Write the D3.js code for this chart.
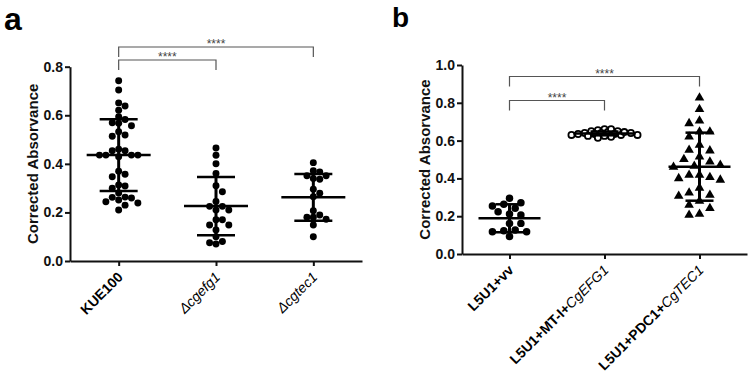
<!DOCTYPE html>
<html>
<head>
<meta charset="utf-8">
<script src="https://cdn.jsdelivr.net/npm/d3@7"></script>
<style>
  body { margin: 0; background: #fff; }
  text { font-family: "Liberation Sans", Arial, sans-serif; }
</style>
</head>
<body>
<script>
// ---- data ----
// panel a
const catA = ["KUE100", "Δcgefg1", "Δcgtec1"];
const kue100 = [0.742, 0.704, 0.651, 0.638, 0.621, 0.594, 0.583, 0.569, 0.567, 0.557, 0.532, 0.519,
                0.514, 0.460, 0.454, 0.454, 0.436, 0.436, 0.436, 0.436, 0.429, 0.370, 0.357, 0.347,
                0.313, 0.309, 0.300, 0.280, 0.263, 0.262, 0.259, 0.251, 0.244, 0.239, 0.230, 0.210];
const dCgefg1 = [0.465, 0.435, 0.400, 0.360, 0.310, 0.285, 0.245, 0.225, 0.210, 0.210, 0.225,
                 0.170, 0.170, 0.148, 0.148, 0.128, 0.100, 0.080, 0.070, 0.075];
const dCgtec1 = [0.405, 0.372, 0.351, 0.340, 0.337, 0.351, 0.367, 0.295, 0.279, 0.265,
                 0.207, 0.180, 0.172, 0.148, 0.180, 0.189, 0.100];
const meanA = [0.436, 0.226, 0.262];
const sdA = [0.148, 0.120, 0.096];
const ticksA = [0.0, 0.2, 0.4, 0.6, 0.8];

// panel b
const catB = ["L5U1+vv", "L5U1+MT-I+CgEFG1", "L5U1+PDC1+CgTEC1"];
const labelB = [["L5U1+vv", ""], ["L5U1+MT-I+", "CgEFG1"], ["L5U1+PDC1+", "CgTEC1"]];
const vv = [0.295, 0.271, 0.254, 0.242, 0.263, 0.212, 0.224, 0.206, 0.162, 0.162,
            0.127, 0.118, 0.092, 0.118, 0.123];
const mtEfg1 = [0.655, 0.660, 0.650, 0.645, 0.660, 0.650, 0.640, 0.640, 0.635, 0.630,
                0.630, 0.635, 0.625, 0.620, 0.630, 0.640, 0.645, 0.635, 0.625, 0.615];
const pdcTec1 = [0.827, 0.766, 0.705, 0.691, 0.647, 0.647, 0.620, 0.577, 0.550, 0.547,
                 0.515, 0.501, 0.488, 0.471, 0.466, 0.460, 0.418, 0.418, 0.406, 0.400,
                 0.392, 0.350, 0.324, 0.312, 0.307, 0.280, 0.259, 0.242, 0.212, 0.206];
const meanB = [0.189, 0.638, 0.462];
const sdB = [0.074, 0.010, 0.180];
const ticksB = [0.0, 0.2, 0.4, 0.6, 0.8, 1.0];

// significance brackets: [from index, to index, label]
const sigA = [[0, 1, "****"], [0, 2, "****"]];
const sigB = [[0, 1, "****"], [0, 2, "****"]];

const svg = d3.select("body").append("svg")
    .attr("width", 750)
    .attr("height", 374);

// simple column beeswarm, top values first
function swarm(values, y, step, minDist, sign) {
    const placed = [];
    const out = new Array(values.length);
    values.map((v, i) => ({v, i}))
        .sort((a, b) => b.v - a.v)
        .forEach(p => {
            const py = y(p.v);
            for (let k = 0; k < 200; k++) {
                const off = k === 0 ? 0 : (k % 2 ? sign : -sign) * Math.ceil(k / 2) * step;
                if (placed.every(q => Math.hypot(q.dx - off, q.y - py) >= minDist)) {
                    placed.push({dx: off, y: py});
                    out[p.i] = off;
                    break;
                }
            }
        });
    return out;
}

function drawPanel(o) {
    const g = svg.append("g");
    const x = d3.scalePoint().domain(o.cats).range(o.xr).padding(0.5);
    const y = d3.scaleLinear().domain(o.yd).range(o.yr);

    // axes
    const yAxis = g.append("g")
        .attr("transform", "translate(" + o.xr[0] + ",0)")
        .call(d3.axisLeft(y).tickValues(o.ticks).tickFormat(d3.format(".1f"))
            .tickSize(5).tickSizeOuter(0).tickPadding(2));
    const xAxis = g.append("g")
        .attr("transform", "translate(0," + o.yr[0] + ")")
        .call(d3.axisBottom(x).tickSize(5).tickSizeOuter(0).tickFormat(""));
    [yAxis, xAxis].forEach(a => {
        a.select(".domain").attr("stroke", "#111").attr("stroke-width", 2);
        a.selectAll(".tick line").attr("stroke", "#111").attr("stroke-width", 2);
    });
    yAxis.selectAll(".tick text")
        .attr("font-size", 14).attr("font-weight", "bold").attr("fill", "#111");

    // x labels, rotated
    o.cats.forEach((c, i) => {
        const t = g.append("text")
            .attr("text-anchor", "end")
            .attr("font-size", 14)
            .attr("fill", "#000")
            .attr("transform", "translate(" + (x(c) + 5) + "," + (o.yr[0] + 17) + ") rotate(-45)");
        o.labels[i].forEach((part, j) => {
            if (!part) return;
            const ts = t.append("tspan").attr("fill", "#000").text(part);
            if (o.styles[i][j] === "b") ts.attr("font-weight", "bold");
            else ts.attr("font-style", "italic");
        });
    });

    // y title
    g.append("text")
        .attr("transform", "translate(" + o.titleX + "," + ((o.yr[0] + o.yr[1]) / 2) + ") rotate(-90)")
        .attr("text-anchor", "middle")
        .attr("font-size", 15)
        .attr("font-weight", "bold")
        .attr("fill", "#111")
        .text("Corrected Absorvance");

    // points
    o.series.forEach((vals, i) => {
        const sh = o.shapes[i];
        const offs = swarm(vals, y, sh.step, sh.minDist, sh.sign || 1);
        const sym = d3.symbol().type(sh.type === "tri" ? d3.symbolTriangle : d3.symbolCircle).size(sh.size);
        g.append("g").selectAll("path")
            .data(vals)
            .join("path")
            .attr("d", sym)
            .attr("transform", (d, k) => "translate(" + (x(o.cats[i]) + offs[k]) + "," + y(d) + ")")
            .attr("fill", sh.open ? "#fff" : "#000")
            .attr("stroke", sh.open ? "#000" : "none")
            .attr("stroke-width", sh.open ? 1.8 : 0);
    });

    // mean and SD
    o.cats.forEach((c, i) => {
        const cx = x(c), m = o.means[i], s = o.sds[i];
        g.append("line").attr("x1", cx).attr("x2", cx)
            .attr("y1", y(m + s)).attr("y2", y(m - s))
            .attr("stroke", "#000").attr("stroke-width", 3);
        [m + s, m - s].forEach(v => {
            g.append("line").attr("x1", cx - o.capW).attr("x2", cx + o.capW)
                .attr("y1", y(v)).attr("y2", y(v))
                .attr("stroke", "#000").attr("stroke-width", 2.5);
        });
        g.append("line").attr("x1", cx - o.meanW).attr("x2", cx + o.meanW)
            .attr("y1", y(m)).attr("y2", y(m))
            .attr("stroke", "#000").attr("stroke-width", 2.5);
    });

    // brackets
    o.sig.forEach((s, k) => {
        const x1 = x(o.cats[s[0]]), x2 = x(o.cats[s[1]]);
        const by = o.brY[k];
        g.append("path")
            .attr("d", "M" + x1 + "," + (by + 10) + "V" + by + "H" + x2 + "V" + (by + 10))
            .attr("fill", "none").attr("stroke", "#555").attr("stroke-width", 1.2);
        g.append("text")
            .attr("x", (x1 + x2) / 2).attr("y", by + 1)
            .attr("text-anchor", "middle")
            .attr("font-size", 12)
            .attr("fill", "#444")
            .text(s[2]);
    });

    svg.append("text")
        .attr("x", o.letter[0]).attr("y", o.letter[1])
        .attr("font-size", o.letter[3]).attr("font-weight", "bold").attr("fill", "#000")
        .text(o.letter[2]);
}

drawPanel({
    cats: catA,
    labels: [["KUE100"], ["Δcgefg1"], ["Δcgtec1"]],
    styles: [["b"], ["i"], ["i"]],
    series: [kue100, dCgefg1, dCgtec1],
    shapes: [
        {type: "circle", size: 38, step: 6.4, minDist: 6.4},
        {type: "circle", size: 38, step: 6.4, minDist: 6.4},
        {type: "circle", size: 38, step: 6.4, minDist: 6.4}
    ],
    means: meanA, sds: sdA,
    ticks: ticksA,
    xr: [70, 362], yd: [0, 0.8], yr: [261, 66.7],
    titleX: 38, capW: 19, meanW: 32,
    sig: sigA, brY: [60, 47],
    letter: [4, 30, "a", 32]
});

drawPanel({
    cats: catB,
    labels: labelB,
    styles: [["b", "i"], ["b", "i"], ["b", "i"]],
    series: [vv, mtEfg1, pdcTec1],
    shapes: [
        {type: "circle", size: 44, step: 5.7, minDist: 7.4},
        {type: "circle", size: 30, step: 3.3, minDist: 4.2, open: true},
        {type: "tri", size: 40, step: 5.2, minDist: 10, sign: -1}
    ],
    means: meanB, sds: sdB,
    ticks: ticksB,
    xr: [462, 747], yd: [0, 1], yr: [254, 65],
    titleX: 430, capW: 14, meanW: 31,
    sig: sigB, brY: [100.5, 76.5],
    letter: [392, 27, "b", 28]
});
</script>
</body>
</html>
